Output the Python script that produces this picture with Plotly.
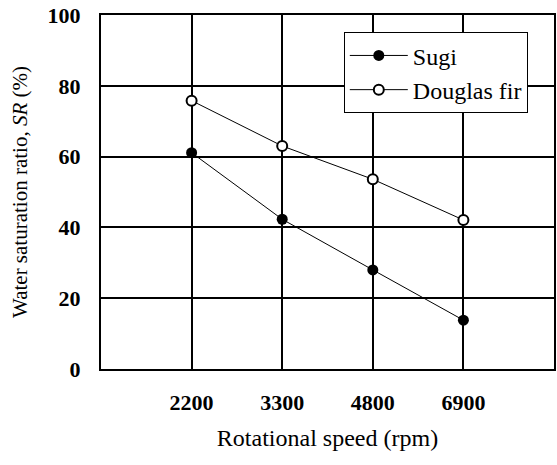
import plotly.graph_objects as go

speeds = ["2200", "3300", "4800", "6900"]
sugi = [61.1, 42.3, 28.0, 13.8]
douglas = [75.8, 63.0, 53.6, 42.1]
y_ticks = [0, 20, 40, 60, 80, 100]

FONT = "Liberation Serif, Times New Roman, Times, serif"

fig = go.Figure()
fig.add_trace(go.Scatter(
    x=speeds, y=sugi, name="Sugi", mode="lines+markers",
    line=dict(color="black", width=1),
    marker=dict(symbol="circle", size=11, color="black"),
))
fig.add_trace(go.Scatter(
    x=speeds, y=douglas, name="Douglas fir", mode="lines+markers",
    line=dict(color="black", width=1),
    marker=dict(symbol="circle", size=10, color="white",
                line=dict(color="black", width=2)),
))

fig.update_layout(
    width=557, height=465,
    margin=dict(l=101, r=1, t=15, b=96),
    paper_bgcolor="white", plot_bgcolor="white",
    font=dict(family=FONT, color="black", size=18),
    showlegend=True,
    legend=dict(
        x=0.536, y=0.951, xanchor="left", yanchor="top",
        bgcolor="white", bordercolor="black", borderwidth=1,
        font=dict(family=FONT, size=24, color="black"),
        itemwidth=58, tracegroupgap=0,
    ),
    xaxis=dict(
        type="category", categoryorder="array", categoryarray=speeds,
        range=[-1, 4],
        showgrid=True, gridcolor="black", gridwidth=1.5,
        showline=True, linecolor="black", linewidth=2, mirror=True,
        ticks="", ticklabelstandoff=13,
        tickfont=dict(family=FONT, size=22, color="black", weight="bold"),
        title=dict(text="Rotational speed (rpm)", standoff=15,
                   font=dict(family=FONT, size=24, color="black")),
        zeroline=False,
    ),
    yaxis=dict(
        range=[0, 100], tickvals=y_ticks,
        showgrid=True, gridcolor="black", gridwidth=1.5,
        showline=True, linecolor="black", linewidth=2, mirror=True,
        ticks="", ticklabelstandoff=14,
        tickfont=dict(family=FONT, size=22, color="black", weight="bold"),
        title=dict(text="Water saturation ratio, <i>SR</i> (%)", standoff=14,
                   font=dict(family=FONT, size=21, color="black")),
        zeroline=False,
    ),
)

fig.write_html("out.html")
